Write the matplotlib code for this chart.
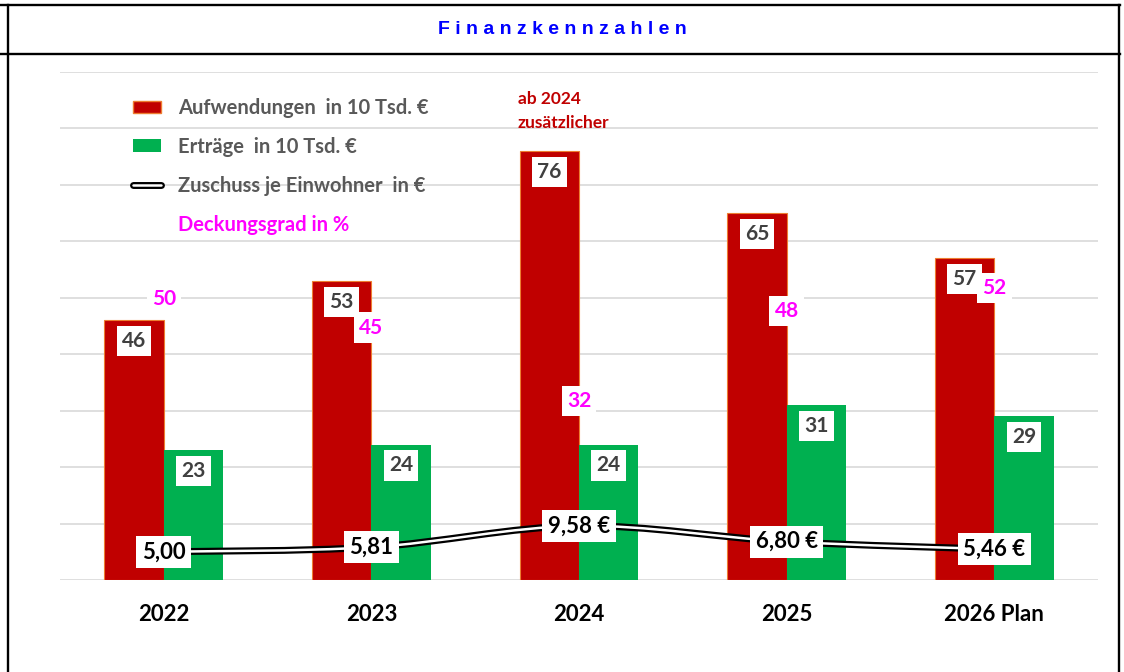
import numpy as np
import matplotlib.pyplot as plt
from matplotlib.path import Path
from matplotlib.patches import PathPatch, Patch
from matplotlib.lines import Line2D

years = ['2022', '2023', '2024', '2025', '2026 Plan']
aufwendungen = [46, 53, 76, 65, 57]
ertraege = [23, 24, 24, 31, 29]
zuschuss = [5.00, 5.81, 9.58, 6.80, 5.46]
zuschuss_suffix = ['', '', ' €', ' €', ' €']
deckungsgrad = [50, 45, 32, 48, 52]

RED = '#C00000'
GREEN = '#00B050'
GRAY = '#595959'
MAGENTA = '#FF00FF'

plt.rcParams['font.family'] = ['Lato', 'DejaVu Sans']


def smooth_path(xs, ys):
    # excel-like smoothed line through the points (bezier segments)
    pts = np.column_stack([xs, ys]).astype(float)
    n = len(pts)
    verts = [pts[0]]
    codes = [Path.MOVETO]
    for i in range(n - 1):
        p0 = pts[i - 1] if i > 0 else pts[i]
        p3 = pts[i + 2] if i + 2 < n else pts[i + 1]
        c1 = pts[i] + (pts[i + 1] - p0) / 6
        c2 = pts[i + 1] - (p3 - pts[i]) / 6
        verts += [c1, c2, pts[i + 1]]
        codes += [Path.CURVE4] * 3
    return Path(verts, codes)


W, H = 1124, 672
fig = plt.figure(figsize=(W / 100, H / 100), dpi=100)
ax = fig.add_axes([60 / W, 92 / H, 1038 / W, 508 / H])

x = np.arange(len(years))
w = 0.286
ax.bar(x - w / 2, aufwendungen, w, color=RED, edgecolor='#ED7D31', linewidth=0.8, zorder=2)
ax.bar(x + w / 2, ertraege, w, color=GREEN, zorder=2)

path = smooth_path(x, zuschuss)
ax.add_patch(PathPatch(path, fill=False, edgecolor='black', lw=5, capstyle='round', zorder=3))
ax.add_patch(PathPatch(path, fill=False, edgecolor='white', lw=1.8, capstyle='round', zorder=3))

box = dict(boxstyle='square,pad=0.25', facecolor='white', edgecolor='none')
for i in range(len(years)):
    ax.text(x[i] - w / 2, aufwendungen[i] - 3.7, str(aufwendungen[i]), ha='center', va='center',
            color='#404040', weight='bold', size=15, bbox=box, zorder=5)
    ax.text(x[i] + w / 2, ertraege[i] - 3.7, str(ertraege[i]), ha='center', va='center',
            color='#404040', weight='bold', size=15, bbox=box, zorder=5)
    lbl = '{:.2f}'.format(zuschuss[i]).replace('.', ',') + zuschuss_suffix[i]
    ax.text(x[i], zuschuss[i], lbl, ha='center', va='center',
            color='black', weight='bold', size=16, bbox=box, zorder=6)
    ax.text(x[i], deckungsgrad[i] - 0.3, str(deckungsgrad[i]), ha='center', va='center',
            color=MAGENTA, weight='bold', size=15, bbox=box, zorder=6)

ax.text(1.704, 86.6, 'ab 2024\nzusätzlicher', color=RED, weight='bold', size=12.5,
        va='top', ha='left', linespacing=1.6)

ax.set_xlim(-0.5, 4.5)
ax.set_ylim(0, 90)
ax.set_yticks(range(0, 91, 10))
ax.set_yticklabels([])
ax.yaxis.grid(True, color='#D9D9D9', lw=1.2)
ax.set_axisbelow(True)
ax.set_xticks(x, years, fontsize=16, weight='bold')
ax.tick_params(length=0, pad=17)
for s in ax.spines.values():
    s.set_visible(False)

handles = [
    Patch(facecolor=RED, edgecolor='#ED7D31'),
    Patch(facecolor=GREEN),
    (Line2D([], [], color='black', lw=5, solid_capstyle='round'),
     Line2D([], [], color='white', lw=1.8, solid_capstyle='round')),
    Patch(facecolor='none', edgecolor='none'),
]
labels = ['Aufwendungen  in 10 Tsd. €', 'Erträge  in 10 Tsd. €',
          'Zuschuss je Einwohner  in €', 'Deckungsgrad in %']
leg = ax.legend(handles, labels, loc='upper left', bbox_to_anchor=(133 / W, 1 - 98 / H),
                bbox_transform=fig.transFigure, frameon=False, borderpad=0, borderaxespad=0,
                prop=dict(weight='bold', size=14.5), handlelength=1.4, handleheight=0.6,
                handletextpad=0.85, labelspacing=0.94)
for t, c in zip(leg.get_texts(), [GRAY, GRAY, GRAY, MAGENTA]):
    t.set_color(c)

# title box and frame
fig.text(562 / W, 1 - 30 / H, ' '.join('Finanzkennzahlen'), ha='center', va='center',
         color='#0000FF', family='Liberation Sans', weight='bold', size=14)
lw = 1.7
fig.add_artist(Line2D([0, 1120 / W], [1 - 5 / H] * 2, transform=fig.transFigure, color='black', lw=lw))
fig.add_artist(Line2D([0, 1120 / W], [1 - 54 / H] * 2, transform=fig.transFigure, color='black', lw=lw))
fig.add_artist(Line2D([7.5 / W] * 2, [0, 1 - 5 / H], transform=fig.transFigure, color='black', lw=lw))
fig.add_artist(Line2D([1119 / W] * 2, [0, 1 - 5 / H], transform=fig.transFigure, color='black', lw=lw))

fig.savefig('out.png', dpi=100)
